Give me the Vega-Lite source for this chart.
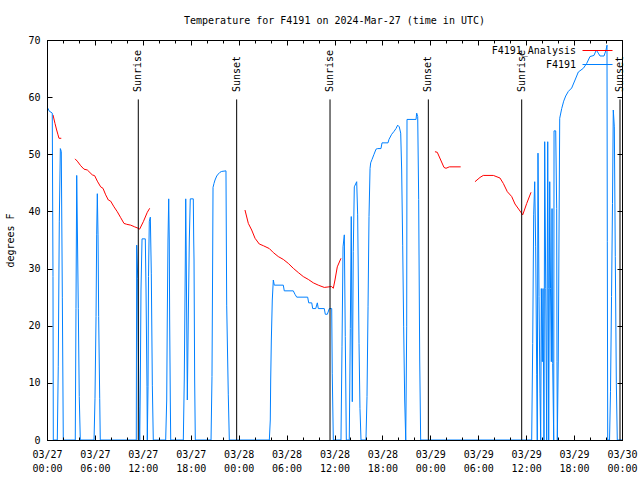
{
  "$schema": "https://vega.github.io/schema/vega-lite/v6.json",
  "width": 575,
  "height": 400,
  "autosize": {"type": "none"},
  "padding": {"left": 47, "top": 40, "right": 18, "bottom": 40},
  "background": "white",
  "title": {"text": "Temperature for F4191 on 2024-Mar-27 (time in UTC)", "font": "DejaVu Sans Mono", "fontSize": 10, "fontWeight": "normal", "color": "black", "anchor": "middle", "baseline": "alphabetic", "offset": 1},
  "config": {"view": {"stroke": "black", "strokeWidth": 1}, "font": "DejaVu Sans Mono"},
  "datasets": {
    "sun": [
      {"h": 11.43, "event": "Sunrise"}, {"h": 23.75, "event": "Sunset"},
      {"h": 35.44, "event": "Sunrise"}, {"h": 47.75, "event": "Sunset"},
      {"h": 59.44, "event": "Sunrise"}, {"h": 71.75, "event": "Sunset"}
    ],
    "obs": [
      {"series": "F4191_Analysis", "seg": "r1", "h": 0.75, "v": 56.9},
      {"series": "F4191_Analysis", "seg": "r1", "h": 1.0, "v": 55.4},
      {"series": "F4191_Analysis", "seg": "r1", "h": 1.21, "v": 54.25},
      {"series": "F4191_Analysis", "seg": "r1", "h": 1.38, "v": 53.4},
      {"series": "F4191_Analysis", "seg": "r1", "h": 1.5, "v": 52.8},
      {"series": "F4191_Analysis", "seg": "r1", "h": 1.79, "v": 52.8},
      {"series": "F4191_Analysis", "seg": "r2", "h": 3.51, "v": 49.2},
      {"series": "F4191_Analysis", "seg": "r2", "h": 3.79, "v": 48.8},
      {"series": "F4191_Analysis", "seg": "r2", "h": 4.22, "v": 48.0},
      {"series": "F4191_Analysis", "seg": "r2", "h": 4.63, "v": 47.4},
      {"series": "F4191_Analysis", "seg": "r2", "h": 5.05, "v": 47.25},
      {"series": "F4191_Analysis", "seg": "r2", "h": 5.67, "v": 46.4},
      {"series": "F4191_Analysis", "seg": "r2", "h": 5.97, "v": 46.25},
      {"series": "F4191_Analysis", "seg": "r2", "h": 6.3, "v": 45.3},
      {"series": "F4191_Analysis", "seg": "r2", "h": 6.72, "v": 44.3},
      {"series": "F4191_Analysis", "seg": "r2", "h": 7.01, "v": 44.05},
      {"series": "F4191_Analysis", "seg": "r2", "h": 7.35, "v": 42.9},
      {"series": "F4191_Analysis", "seg": "r2", "h": 7.68, "v": 42.0},
      {"series": "F4191_Analysis", "seg": "r2", "h": 7.97, "v": 41.8},
      {"series": "F4191_Analysis", "seg": "r2", "h": 8.39, "v": 40.8},
      {"series": "F4191_Analysis", "seg": "r2", "h": 8.8, "v": 39.95},
      {"series": "F4191_Analysis", "seg": "r2", "h": 9.23, "v": 38.9},
      {"series": "F4191_Analysis", "seg": "r2", "h": 9.64, "v": 37.9},
      {"series": "F4191_Analysis", "seg": "r2", "h": 9.98, "v": 37.75},
      {"series": "F4191_Analysis", "seg": "r2", "h": 10.48, "v": 37.6},
      {"series": "F4191_Analysis", "seg": "r2", "h": 10.98, "v": 37.3},
      {"series": "F4191_Analysis", "seg": "r2", "h": 11.43, "v": 37.05},
      {"series": "F4191_Analysis", "seg": "r2", "h": 11.6, "v": 36.9},
      {"series": "F4191_Analysis", "seg": "r2", "h": 12.06, "v": 38.2},
      {"series": "F4191_Analysis", "seg": "r2", "h": 12.56, "v": 39.85},
      {"series": "F4191_Analysis", "seg": "r2", "h": 12.86, "v": 40.55},
      {"series": "F4191_Analysis", "seg": "r3", "h": 24.79, "v": 40.25},
      {"series": "F4191_Analysis", "seg": "r3", "h": 25.21, "v": 37.9},
      {"series": "F4191_Analysis", "seg": "r3", "h": 25.63, "v": 36.75},
      {"series": "F4191_Analysis", "seg": "r3", "h": 26.05, "v": 35.3},
      {"series": "F4191_Analysis", "seg": "r3", "h": 26.58, "v": 34.3},
      {"series": "F4191_Analysis", "seg": "r3", "h": 27.09, "v": 34.0},
      {"series": "F4191_Analysis", "seg": "r3", "h": 27.84, "v": 33.5},
      {"series": "F4191_Analysis", "seg": "r3", "h": 28.34, "v": 32.8},
      {"series": "F4191_Analysis", "seg": "r3", "h": 28.96, "v": 32.1},
      {"series": "F4191_Analysis", "seg": "r3", "h": 29.59, "v": 31.6},
      {"series": "F4191_Analysis", "seg": "r3", "h": 30.22, "v": 30.9},
      {"series": "F4191_Analysis", "seg": "r3", "h": 30.84, "v": 30.05},
      {"series": "F4191_Analysis", "seg": "r3", "h": 31.47, "v": 29.3},
      {"series": "F4191_Analysis", "seg": "r3", "h": 32.09, "v": 28.6},
      {"series": "F4191_Analysis", "seg": "r3", "h": 32.72, "v": 28.1},
      {"series": "F4191_Analysis", "seg": "r3", "h": 33.35, "v": 27.5},
      {"series": "F4191_Analysis", "seg": "r3", "h": 33.97, "v": 27.1},
      {"series": "F4191_Analysis", "seg": "r3", "h": 34.72, "v": 26.7},
      {"series": "F4191_Analysis", "seg": "r3", "h": 35.31, "v": 26.8},
      {"series": "F4191_Analysis", "seg": "r3", "h": 35.65, "v": 26.85},
      {"series": "F4191_Analysis", "seg": "r3", "h": 35.85, "v": 26.55},
      {"series": "F4191_Analysis", "seg": "r3", "h": 36.06, "v": 28.0},
      {"series": "F4191_Analysis", "seg": "r3", "h": 36.35, "v": 30.3},
      {"series": "F4191_Analysis", "seg": "r3", "h": 36.81, "v": 31.8},
      {"series": "F4191_Analysis", "seg": "r4", "h": 48.58, "v": 50.45},
      {"series": "F4191_Analysis", "seg": "r4", "h": 48.87, "v": 50.35},
      {"series": "F4191_Analysis", "seg": "r4", "h": 49.3, "v": 49.0},
      {"series": "F4191_Analysis", "seg": "r4", "h": 49.71, "v": 47.7},
      {"series": "F4191_Analysis", "seg": "r4", "h": 49.96, "v": 47.55},
      {"series": "F4191_Analysis", "seg": "r4", "h": 50.38, "v": 47.8},
      {"series": "F4191_Analysis", "seg": "r4", "h": 51.8, "v": 47.8},
      {"series": "F4191_Analysis", "seg": "r5", "h": 53.59, "v": 45.2},
      {"series": "F4191_Analysis", "seg": "r5", "h": 54.22, "v": 45.95},
      {"series": "F4191_Analysis", "seg": "r5", "h": 54.63, "v": 46.3},
      {"series": "F4191_Analysis", "seg": "r5", "h": 55.89, "v": 46.3},
      {"series": "F4191_Analysis", "seg": "r5", "h": 56.72, "v": 45.85},
      {"series": "F4191_Analysis", "seg": "r5", "h": 57.14, "v": 44.9},
      {"series": "F4191_Analysis", "seg": "r5", "h": 57.64, "v": 43.45},
      {"series": "F4191_Analysis", "seg": "r5", "h": 58.19, "v": 42.6},
      {"series": "F4191_Analysis", "seg": "r5", "h": 58.6, "v": 41.3},
      {"series": "F4191_Analysis", "seg": "r5", "h": 59.14, "v": 40.25},
      {"series": "F4191_Analysis", "seg": "r5", "h": 59.57, "v": 39.4},
      {"series": "F4191_Analysis", "seg": "r5", "h": 60.07, "v": 41.4},
      {"series": "F4191_Analysis", "seg": "r5", "h": 60.61, "v": 43.35},
      {"series": "F4191", "seg": "b", "h": 0.13, "v": 58.05},
      {"series": "F4191", "seg": "b", "h": 0.25, "v": 57.6},
      {"series": "F4191", "seg": "b", "h": 0.66, "v": 57.2},
      {"series": "F4191", "seg": "b", "h": 0.75, "v": 28.6},
      {"series": "F4191", "seg": "b", "h": 0.79, "v": 0},
      {"series": "F4191", "seg": "b", "h": 1.29, "v": 0},
      {"series": "F4191", "seg": "b", "h": 1.41, "v": 12.8},
      {"series": "F4191", "seg": "b", "h": 1.54, "v": 38.3},
      {"series": "F4191", "seg": "b", "h": 1.67, "v": 51},
      {"series": "F4191", "seg": "b", "h": 1.79, "v": 50.5},
      {"series": "F4191", "seg": "b", "h": 1.92, "v": 25},
      {"series": "F4191", "seg": "b", "h": 2.04, "v": 0},
      {"series": "F4191", "seg": "b", "h": 3.54, "v": 0},
      {"series": "F4191", "seg": "b", "h": 3.63, "v": 23},
      {"series": "F4191", "seg": "b", "h": 3.72, "v": 46.3},
      {"series": "F4191", "seg": "b", "h": 3.79, "v": 38.5},
      {"series": "F4191", "seg": "b", "h": 3.92, "v": 23},
      {"series": "F4191", "seg": "b", "h": 4.04, "v": 7.6},
      {"series": "F4191", "seg": "b", "h": 4.17, "v": 0},
      {"series": "F4191", "seg": "b", "h": 5.89, "v": 0},
      {"series": "F4191", "seg": "b", "h": 6.01, "v": 7.3},
      {"series": "F4191", "seg": "b", "h": 6.14, "v": 21.6},
      {"series": "F4191", "seg": "b", "h": 6.22, "v": 35.9},
      {"series": "F4191", "seg": "b", "h": 6.3, "v": 43.1},
      {"series": "F4191", "seg": "b", "h": 6.39, "v": 35.9},
      {"series": "F4191", "seg": "b", "h": 6.47, "v": 21.6},
      {"series": "F4191", "seg": "b", "h": 6.6, "v": 7.3},
      {"series": "F4191", "seg": "b", "h": 6.67, "v": 0},
      {"series": "F4191", "seg": "b", "h": 11.18, "v": 0},
      {"series": "F4191", "seg": "b", "h": 11.23, "v": 34.1},
      {"series": "F4191", "seg": "b", "h": 11.36, "v": 28.3},
      {"series": "F4191", "seg": "b", "h": 11.43, "v": 17},
      {"series": "F4191", "seg": "b", "h": 11.52, "v": 5.8},
      {"series": "F4191", "seg": "b", "h": 11.61, "v": 0},
      {"series": "F4191", "seg": "b", "h": 11.68, "v": 8.75},
      {"series": "F4191", "seg": "b", "h": 11.77, "v": 26.25},
      {"series": "F4191", "seg": "b", "h": 11.9, "v": 35.2},
      {"series": "F4191", "seg": "b", "h": 12.31, "v": 35.2},
      {"series": "F4191", "seg": "b", "h": 12.4, "v": 26.25},
      {"series": "F4191", "seg": "b", "h": 12.52, "v": 9.3},
      {"series": "F4191", "seg": "b", "h": 12.56, "v": 0},
      {"series": "F4191", "seg": "b", "h": 12.65, "v": 9.3},
      {"series": "F4191", "seg": "b", "h": 12.71, "v": 28.6},
      {"series": "F4191", "seg": "b", "h": 12.81, "v": 38.3},
      {"series": "F4191", "seg": "b", "h": 12.94, "v": 39},
      {"series": "F4191", "seg": "b", "h": 13.06, "v": 29.2},
      {"series": "F4191", "seg": "b", "h": 13.19, "v": 9.6},
      {"series": "F4191", "seg": "b", "h": 13.31, "v": 0},
      {"series": "F4191", "seg": "b", "h": 14.86, "v": 0},
      {"series": "F4191", "seg": "b", "h": 14.99, "v": 7},
      {"series": "F4191", "seg": "b", "h": 15.06, "v": 21},
      {"series": "F4191", "seg": "b", "h": 15.15, "v": 35},
      {"series": "F4191", "seg": "b", "h": 15.24, "v": 42.2},
      {"series": "F4191", "seg": "b", "h": 15.31, "v": 35},
      {"series": "F4191", "seg": "b", "h": 15.36, "v": 21},
      {"series": "F4191", "seg": "b", "h": 15.44, "v": 7},
      {"series": "F4191", "seg": "b", "h": 15.49, "v": 0},
      {"series": "F4191", "seg": "b", "h": 17.07, "v": 0},
      {"series": "F4191", "seg": "b", "h": 17.19, "v": 10.5},
      {"series": "F4191", "seg": "b", "h": 17.32, "v": 31.5},
      {"series": "F4191", "seg": "b", "h": 17.37, "v": 42.2},
      {"series": "F4191", "seg": "b", "h": 17.44, "v": 31.5},
      {"series": "F4191", "seg": "b", "h": 17.57, "v": 7},
      {"series": "F4191", "seg": "b", "h": 17.69, "v": 21},
      {"series": "F4191", "seg": "b", "h": 17.82, "v": 35},
      {"series": "F4191", "seg": "b", "h": 17.94, "v": 42.2},
      {"series": "F4191", "seg": "b", "h": 18.32, "v": 42.2},
      {"series": "F4191", "seg": "b", "h": 18.37, "v": 35},
      {"series": "F4191", "seg": "b", "h": 18.41, "v": 31.5},
      {"series": "F4191", "seg": "b", "h": 18.49, "v": 10.5},
      {"series": "F4191", "seg": "b", "h": 18.57, "v": 0},
      {"series": "F4191", "seg": "b", "h": 20.54, "v": 0},
      {"series": "F4191", "seg": "b", "h": 20.66, "v": 11.1},
      {"series": "F4191", "seg": "b", "h": 20.75, "v": 33.25},
      {"series": "F4191", "seg": "b", "h": 20.79, "v": 44.2},
      {"series": "F4191", "seg": "b", "h": 20.91, "v": 44.9},
      {"series": "F4191", "seg": "b", "h": 21.04, "v": 45.5},
      {"series": "F4191", "seg": "b", "h": 21.25, "v": 46.2},
      {"series": "F4191", "seg": "b", "h": 21.45, "v": 46.55},
      {"series": "F4191", "seg": "b", "h": 21.66, "v": 46.85},
      {"series": "F4191", "seg": "b", "h": 21.88, "v": 47},
      {"series": "F4191", "seg": "b", "h": 22.41, "v": 47.1},
      {"series": "F4191", "seg": "b", "h": 22.5, "v": 23.6},
      {"series": "F4191", "seg": "b", "h": 22.7, "v": 7.9},
      {"series": "F4191", "seg": "b", "h": 22.83, "v": 0},
      {"series": "F4191", "seg": "b", "h": 27.84, "v": 0},
      {"series": "F4191", "seg": "b", "h": 27.96, "v": 3.5},
      {"series": "F4191", "seg": "b", "h": 28.01, "v": 10.5},
      {"series": "F4191", "seg": "b", "h": 28.09, "v": 17.5},
      {"series": "F4191", "seg": "b", "h": 28.21, "v": 24.5},
      {"series": "F4191", "seg": "b", "h": 28.34, "v": 28},
      {"series": "F4191", "seg": "b", "h": 28.46, "v": 27.1},
      {"series": "F4191", "seg": "b", "h": 29.59, "v": 27.1},
      {"series": "F4191", "seg": "b", "h": 29.71, "v": 26.1},
      {"series": "F4191", "seg": "b", "h": 30.84, "v": 26.1},
      {"series": "F4191", "seg": "b", "h": 31.05, "v": 25.5},
      {"series": "F4191", "seg": "b", "h": 31.27, "v": 25},
      {"series": "F4191", "seg": "b", "h": 32.64, "v": 25},
      {"series": "F4191", "seg": "b", "h": 32.77, "v": 24},
      {"series": "F4191", "seg": "b", "h": 33.15, "v": 24},
      {"series": "F4191", "seg": "b", "h": 33.27, "v": 23},
      {"series": "F4191", "seg": "b", "h": 33.65, "v": 23},
      {"series": "F4191", "seg": "b", "h": 33.85, "v": 24},
      {"series": "F4191", "seg": "b", "h": 33.97, "v": 23},
      {"series": "F4191", "seg": "b", "h": 34.72, "v": 23},
      {"series": "F4191", "seg": "b", "h": 34.85, "v": 22},
      {"series": "F4191", "seg": "b", "h": 35.1, "v": 22},
      {"series": "F4191", "seg": "b", "h": 35.35, "v": 23},
      {"series": "F4191", "seg": "b", "h": 35.65, "v": 23},
      {"series": "F4191", "seg": "b", "h": 35.72, "v": 11.7},
      {"series": "F4191", "seg": "b", "h": 35.85, "v": 0},
      {"series": "F4191", "seg": "b", "h": 36.81, "v": 0},
      {"series": "F4191", "seg": "b", "h": 36.94, "v": 16.3},
      {"series": "F4191", "seg": "b", "h": 37.07, "v": 33.8},
      {"series": "F4191", "seg": "b", "h": 37.23, "v": 35.9},
      {"series": "F4191", "seg": "b", "h": 37.35, "v": 18.1},
      {"series": "F4191", "seg": "b", "h": 37.48, "v": 0},
      {"series": "F4191", "seg": "b", "h": 37.85, "v": 0},
      {"series": "F4191", "seg": "b", "h": 37.98, "v": 19.5},
      {"series": "F4191", "seg": "b", "h": 38.1, "v": 39.1},
      {"series": "F4191", "seg": "b", "h": 38.23, "v": 6.7},
      {"series": "F4191", "seg": "b", "h": 38.35, "v": 33},
      {"series": "F4191", "seg": "b", "h": 38.48, "v": 44.3},
      {"series": "F4191", "seg": "b", "h": 38.78, "v": 45.2},
      {"series": "F4191", "seg": "b", "h": 38.9, "v": 39.4},
      {"series": "F4191", "seg": "b", "h": 39.07, "v": 16.9},
      {"series": "F4191", "seg": "b", "h": 39.19, "v": 5.5},
      {"series": "F4191", "seg": "b", "h": 39.32, "v": 0},
      {"series": "F4191", "seg": "b", "h": 39.94, "v": 0},
      {"series": "F4191", "seg": "b", "h": 40.07, "v": 7.6},
      {"series": "F4191", "seg": "b", "h": 40.2, "v": 23.3},
      {"series": "F4191", "seg": "b", "h": 40.32, "v": 39.1},
      {"series": "F4191", "seg": "b", "h": 40.45, "v": 47.5},
      {"series": "F4191", "seg": "b", "h": 40.53, "v": 48.5},
      {"series": "F4191", "seg": "b", "h": 40.7, "v": 49.1},
      {"series": "F4191", "seg": "b", "h": 40.95, "v": 50},
      {"series": "F4191", "seg": "b", "h": 41.2, "v": 50.9},
      {"series": "F4191", "seg": "b", "h": 41.41, "v": 51},
      {"series": "F4191", "seg": "b", "h": 41.82, "v": 51},
      {"series": "F4191", "seg": "b", "h": 41.95, "v": 52},
      {"series": "F4191", "seg": "b", "h": 42.7, "v": 52},
      {"series": "F4191", "seg": "b", "h": 42.82, "v": 52.6},
      {"series": "F4191", "seg": "b", "h": 43.16, "v": 53.5},
      {"series": "F4191", "seg": "b", "h": 43.45, "v": 54},
      {"series": "F4191", "seg": "b", "h": 43.7, "v": 54.5},
      {"series": "F4191", "seg": "b", "h": 43.91, "v": 55.1},
      {"series": "F4191", "seg": "b", "h": 44.11, "v": 54.8},
      {"series": "F4191", "seg": "b", "h": 44.29, "v": 53.7},
      {"series": "F4191", "seg": "b", "h": 44.41, "v": 47.25},
      {"series": "F4191", "seg": "b", "h": 44.54, "v": 34.1},
      {"series": "F4191", "seg": "b", "h": 44.66, "v": 19.8},
      {"series": "F4191", "seg": "b", "h": 44.79, "v": 7},
      {"series": "F4191", "seg": "b", "h": 44.92, "v": 0},
      {"series": "F4191", "seg": "b", "h": 45.04, "v": 19.8},
      {"series": "F4191", "seg": "b", "h": 45.08, "v": 56.1},
      {"series": "F4191", "seg": "b", "h": 46.21, "v": 56.1},
      {"series": "F4191", "seg": "b", "h": 46.29, "v": 57.2},
      {"series": "F4191", "seg": "b", "h": 46.42, "v": 56.6},
      {"series": "F4191", "seg": "b", "h": 46.54, "v": 42.1},
      {"series": "F4191", "seg": "b", "h": 46.67, "v": 14},
      {"series": "F4191", "seg": "b", "h": 46.79, "v": 0},
      {"series": "F4191", "seg": "b", "h": 60.69, "v": 0},
      {"series": "F4191", "seg": "b", "h": 60.82, "v": 16.9},
      {"series": "F4191", "seg": "b", "h": 60.94, "v": 39.4},
      {"series": "F4191", "seg": "b", "h": 61.07, "v": 45.2},
      {"series": "F4191", "seg": "b", "h": 61.19, "v": 33.8},
      {"series": "F4191", "seg": "b", "h": 61.32, "v": 11.4},
      {"series": "F4191", "seg": "b", "h": 61.39, "v": 0},
      {"series": "F4191", "seg": "b", "h": 61.48, "v": 50.2},
      {"series": "F4191", "seg": "b", "h": 61.61, "v": 25.1},
      {"series": "F4191", "seg": "b", "h": 61.73, "v": 8.2},
      {"series": "F4191", "seg": "b", "h": 61.82, "v": 0},
      {"series": "F4191", "seg": "b", "h": 61.9, "v": 26.5},
      {"series": "F4191", "seg": "b", "h": 62.02, "v": 13.7},
      {"series": "F4191", "seg": "b", "h": 62.11, "v": 26.5},
      {"series": "F4191", "seg": "b", "h": 62.23, "v": 0},
      {"series": "F4191", "seg": "b", "h": 62.32, "v": 52.2},
      {"series": "F4191", "seg": "b", "h": 62.45, "v": 26.5},
      {"series": "F4191", "seg": "b", "h": 62.57, "v": 0},
      {"series": "F4191", "seg": "b", "h": 62.7, "v": 52.2},
      {"series": "F4191", "seg": "b", "h": 62.77, "v": 26.5},
      {"series": "F4191", "seg": "b", "h": 62.82, "v": 0},
      {"series": "F4191", "seg": "b", "h": 62.95, "v": 45.2},
      {"series": "F4191", "seg": "b", "h": 63.05, "v": 26.5},
      {"series": "F4191", "seg": "b", "h": 63.15, "v": 13.7},
      {"series": "F4191", "seg": "b", "h": 63.24, "v": 40.5},
      {"series": "F4191", "seg": "b", "h": 63.32, "v": 13.4},
      {"series": "F4191", "seg": "b", "h": 63.45, "v": 0},
      {"series": "F4191", "seg": "b", "h": 63.49, "v": 54.1},
      {"series": "F4191", "seg": "b", "h": 63.7, "v": 54.1},
      {"series": "F4191", "seg": "b", "h": 63.82, "v": 40.5},
      {"series": "F4191", "seg": "b", "h": 63.86, "v": 13.7},
      {"series": "F4191", "seg": "b", "h": 63.9, "v": 0},
      {"series": "F4191", "seg": "b", "h": 64.02, "v": 14},
      {"series": "F4191", "seg": "b", "h": 64.2, "v": 56.3},
      {"series": "F4191", "seg": "b", "h": 64.45, "v": 58},
      {"series": "F4191", "seg": "b", "h": 64.7, "v": 59.3},
      {"series": "F4191", "seg": "b", "h": 64.95, "v": 60.2},
      {"series": "F4191", "seg": "b", "h": 65.28, "v": 61},
      {"series": "F4191", "seg": "b", "h": 65.7, "v": 61.6},
      {"series": "F4191", "seg": "b", "h": 66.12, "v": 63},
      {"series": "F4191", "seg": "b", "h": 66.53, "v": 64.4},
      {"series": "F4191", "seg": "b", "h": 67.16, "v": 65.05},
      {"series": "F4191", "seg": "b", "h": 67.58, "v": 65.9},
      {"series": "F4191", "seg": "b", "h": 67.99, "v": 67.1},
      {"series": "F4191", "seg": "b", "h": 68.49, "v": 67.3},
      {"series": "F4191", "seg": "b", "h": 68.78, "v": 68.25},
      {"series": "F4191", "seg": "b", "h": 69.03, "v": 67.7},
      {"series": "F4191", "seg": "b", "h": 69.25, "v": 67.2},
      {"series": "F4191", "seg": "b", "h": 69.75, "v": 67.2},
      {"series": "F4191", "seg": "b", "h": 70.0, "v": 68.25},
      {"series": "F4191", "seg": "b", "h": 70.12, "v": 69.1},
      {"series": "F4191", "seg": "b", "h": 70.16, "v": 34.7},
      {"series": "F4191", "seg": "b", "h": 70.21, "v": 0},
      {"series": "F4191", "seg": "b", "h": 70.44, "v": 0},
      {"series": "F4191", "seg": "b", "h": 70.56, "v": 8.45},
      {"series": "F4191", "seg": "b", "h": 70.69, "v": 25.1},
      {"series": "F4191", "seg": "b", "h": 70.81, "v": 41.4},
      {"series": "F4191", "seg": "b", "h": 70.91, "v": 57.75},
      {"series": "F4191", "seg": "b", "h": 71.04, "v": 54.8},
      {"series": "F4191", "seg": "b", "h": 71.16, "v": 32.1},
      {"series": "F4191", "seg": "b", "h": 71.29, "v": 9.9},
      {"series": "F4191", "seg": "b", "h": 71.41, "v": 0},
      {"series": "F4191", "seg": "b", "h": 72, "v": 0}
    ]
  },
  "layer": [
    {
      "data": {"name": "obs"},
      "mark": {"type": "line", "strokeWidth": 1, "clip": true},
      "encoding": {
        "x": {"field": "h", "type": "quantitative", "scale": {"domain": [0, 72], "nice": false, "zero": false},
          "axis": {"orient": "bottom", "values": [0, 6, 12, 18, 24, 30, 36, 42, 48, 54, 60, 66, 72], "ticks": false, "domain": true, "domainColor": "black", "grid": false, "title": null, "zindex": 1,
            "labelExpr": "['03/' + (27 + floor(datum.value / 24)), (datum.value % 24 < 10 ? '0' : '') + (datum.value % 24) + ':00']",
            "labelFont": "DejaVu Sans Mono", "labelFontSize": 10, "labelColor": "black", "labelPadding": 9, "labelLineHeight": 14, "labelAngle": 0, "labelFlush": false, "labelOverlap": false}},
        "y": {"field": "v", "type": "quantitative", "scale": {"domain": [0, 70], "nice": false},
          "axis": {"orient": "left", "values": [0, 10, 20, 30, 40, 50, 60, 70], "ticks": false, "domain": true, "domainColor": "black", "grid": false, "zindex": 1,
            "title": "degrees F", "titleFont": "DejaVu Sans Mono", "titleFontSize": 10, "titleFontWeight": "normal", "titleColor": "black", "titlePadding": 12,
            "labelFont": "DejaVu Sans Mono", "labelFontSize": 10, "labelColor": "black", "labelPadding": 7}},
        "color": {"field": "series", "type": "nominal", "scale": {"domain": ["F4191_Analysis", "F4191"], "range": ["#ff0000", "#0080ff"]},
          "legend": {"orient": "none", "legendX": 438, "legendY": 5, "title": null, "symbolType": "M-3,0H3", "symbolSize": 100, "symbolStrokeWidth": 1, "labelAlign": "right", "labelOffset": -27, "symbolOffset": 107, "labelFont": "DejaVu Sans Mono", "labelFontSize": 10, "labelColor": "black", "padding": 0, "rowPadding": 3, "labelLimit": 200}},
        "detail": {"field": "seg"}
      }
    },
    {
      "data": {"name": "sun"},
      "mark": {"type": "rule", "color": "black", "strokeWidth": 1},
      "encoding": {
        "x": {"field": "h", "type": "quantitative",
          "axis": {"orient": "bottom", "values": [0, 2, 4, 6, 8, 10, 12, 14, 16, 18, 20, 22, 24, 26, 28, 30, 32, 34, 36, 38, 40, 42, 44, 46, 48, 50, 52, 54, 56, 58, 60, 62, 64, 66, 68, 70, 72], "labels": false, "domain": true, "domainColor": "black", "grid": false, "title": null, "zindex": 1, "tickColor": "black",
            "tickSize": {"condition": {"test": "datum.value % 6 === 0", "value": -5}, "value": -3}}},
        "y": {"datum": 59.6, "type": "quantitative",
          "axis": {"orient": "left", "values": [0, 10, 20, 30, 40, 50, 60, 70], "labels": false, "domain": true, "domainColor": "black", "grid": false, "title": null, "zindex": 1, "tickColor": "black", "tickSize": -5}},
        "y2": {"datum": 0}
      }
    },
    {
      "data": {"name": "sun"},
      "mark": {"type": "text", "angle": 270, "align": "left", "baseline": "middle", "font": "DejaVu Sans Mono", "fontSize": 10, "color": "black"},
      "encoding": {
        "x": {"field": "h", "type": "quantitative",
          "axis": {"orient": "top", "values": [0, 2, 4, 6, 8, 10, 12, 14, 16, 18, 20, 22, 24, 26, 28, 30, 32, 34, 36, 38, 40, 42, 44, 46, 48, 50, 52, 54, 56, 58, 60, 62, 64, 66, 68, 70, 72], "labels": false, "domain": true, "domainColor": "black", "grid": false, "title": null, "zindex": 1, "tickColor": "black",
            "tickSize": {"condition": {"test": "datum.value % 6 === 0", "value": -5}, "value": -3}}},
        "y": {"datum": 60.9, "type": "quantitative",
          "axis": {"orient": "right", "values": [0, 10, 20, 30, 40, 50, 60, 70], "labels": false, "domain": true, "domainColor": "black", "grid": false, "title": null, "zindex": 1, "tickColor": "black", "tickSize": -5}},
        "text": {"field": "event"}
      }
    }
  ],
  "resolve": {"axis": {"x": "independent", "y": "independent"}}
}
